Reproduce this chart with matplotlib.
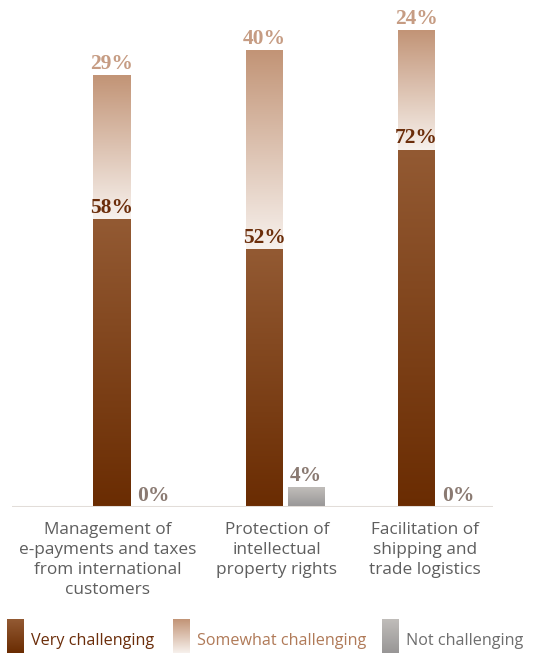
import numpy as np
import matplotlib.pyplot as plt
from matplotlib.colors import LinearSegmentedColormap

categories = ["Management of\ne-payments and taxes\nfrom international\ncustomers",
              "Protection of\nintellectual\nproperty rights",
              "Facilitation of\nshipping and\ntrade logistics"]
very = [58, 52, 72]
somewhat = [29, 40, 24]
not_ch = [0, 4, 0]
series_names = ["Very challenging", "Somewhat challenging", "Not challenging"]

# gradient colour ramps (bottom colour, top colour)
cm_very = LinearSegmentedColormap.from_list("very", ["#6a2c02", "#935a33"])
cm_some = LinearSegmentedColormap.from_list("some", ["#f7f1ed", "#c29476"])
cm_not = LinearSegmentedColormap.from_list("not", ["#989696", "#c0bdba"])

c_very_txt = "#6b2d0a"
c_some_txt = "#c69c83"
c_not_txt = "#8a7a72"

W, H = 538, 654
fig = plt.figure(figsize=(W / 100, H / 100), dpi=100)
# axes: x from 12 to 493 px, y baseline at 507 px, ~5 px per percent
ax_left, ax_right = 12, 493
base_y = 507
ppp = 4.96
top_y = base_y - 100 * ppp
ax = fig.add_axes([ax_left / W, 1 - base_y / H, (ax_right - ax_left) / W, (base_y - top_y) / H])

px = 152.5  # pixels per category unit
x0_px = 111.5
xlim = ((ax_left - x0_px) / px, (ax_right - x0_px) / px)
bw = 37 / px
gap = 42 / px

grad = np.linspace(0, 1, 256).reshape(-1, 1)


def grad_bar(x, y0, y1, cmap):
    if y1 <= y0:
        return
    ax.imshow(grad, extent=[x - bw / 2, x + bw / 2, y0, y1], origin="lower",
              aspect="auto", cmap=cmap, interpolation="bicubic", zorder=2)


serif = dict(family="Liberation Serif", weight="bold", fontsize=15.5)

for i in range(len(categories)):
    xd = i
    xg = i + gap
    grad_bar(xd, 0, very[i], cm_very)
    grad_bar(xd, very[i], very[i] + somewhat[i], cm_some)
    grad_bar(xg, 0, not_ch[i], cm_not)
    ax.text(xd, very[i] + 0.3, f"{very[i]}%", ha="center", va="bottom",
            color=c_very_txt, zorder=4, **serif)
    ax.text(xd, very[i] + somewhat[i] + 0.3, f"{somewhat[i]}%", ha="center",
            va="bottom", color=c_some_txt, zorder=4, **serif)
    ax.text(xg, not_ch[i] + 0.3, f"{not_ch[i]}%", ha="center", va="bottom",
            color=c_not_txt, zorder=4, **serif)

ax.set_xlim(*xlim)
ax.set_ylim(0, 100)
ax.axhline(0, color="#e2ddd9", lw=2.2, zorder=3)
for s in ax.spines.values():
    s.set_visible(False)
ax.set_yticks([])
label_px = [108, 277, 425]
ax.set_xticks([(p - x0_px) / px for p in label_px])
ax.set_xticklabels(categories, fontsize=12.4, color="#5e5e5e", family="Open Sans",
                   linespacing=1.32)
ax.tick_params(axis="x", length=0, pad=11)

# legend with gradient swatches
leg_cmaps = [cm_very, cm_some, cm_not]
leg_txt_col = ["#6b2d0a", "#b07a58", "#6e6e6e"]
sw_x = [7, 173, 382]
lax = fig.add_axes([0, 0, 1, 1])
lax.axis("off")
for k in range(3):
    lax.imshow(grad, extent=[sw_x[k], sw_x[k] + 17, H - 1, 619], origin="lower",
               aspect="auto", cmap=leg_cmaps[k], interpolation="bicubic")
    lax.text(sw_x[k] + 24, 641, series_names[k], ha="left", va="center",
             fontsize=11.6, color=leg_txt_col[k], family="Open Sans")
lax.set_xlim(0, W)
lax.set_ylim(H, 0)

fig.savefig("out.png", dpi=100)
